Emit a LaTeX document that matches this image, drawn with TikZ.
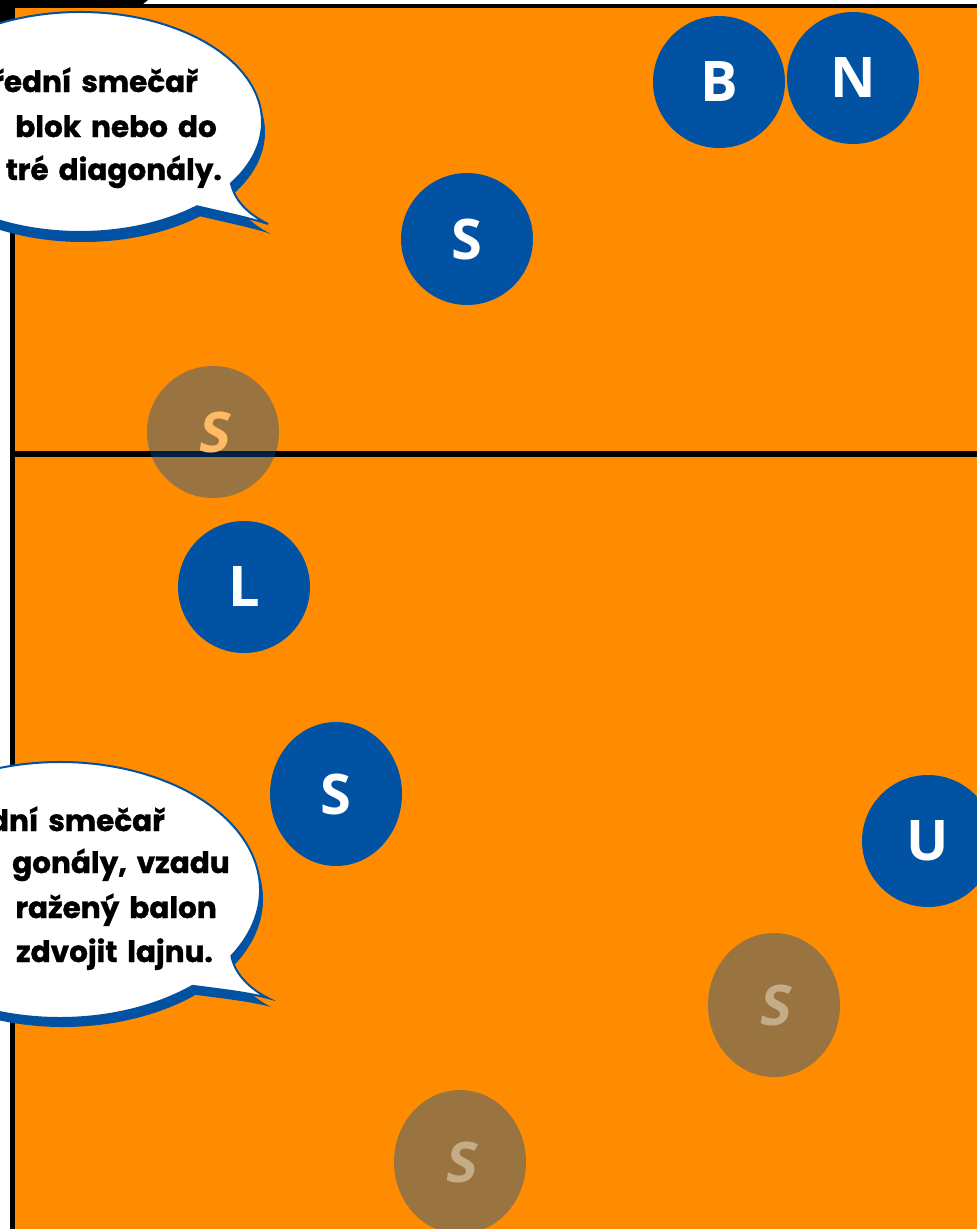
\documentclass[tikz,border=0pt]{standalone}
\usepackage{fontspec}
\setmainfont{Poppins}
\newfontfamily\bubblefont{Poppins}[BoldFeatures={FakeBold=1.2}]
\newfontfamily\letterfont{Open Sans}
\newfontfamily\ghostfont{Open Sans}[FakeSlant=0.15]
\newcommand\widespace{\spaceskip=10pt plus 2pt\relax}
\usetikzlibrary{shapes.geometric}

\definecolor{court}{RGB}{255,140,0}
\definecolor{team}{RGB}{2,82,163}
\definecolor{ghosttxt}{RGB}{196,172,135}
\definecolor{netghosttxt}{RGB}{255,186,102}

\tikzset{
  player/.style={ellipse, fill=team, inner sep=0pt, minimum width=132, minimum height=132,
    text=white, font=\letterfont\bfseries\fontsize{56}{56}\selectfont},
  ghost/.style={player, fill opacity=0.4, text opacity=1, text=ghosttxt,
    font=\ghostfont\bfseries\fontsize{56}{56}\selectfont},
  bubbletext/.style={anchor=base east, inner sep=0pt, text=black,
    font=\bubblefont\bfseries\fontsize{29.5}{36}\selectfont\widespace}
}

\begin{document}
\begin{tikzpicture}[x=1pt, y=-1pt]

\useasboundingbox (0,0) rectangle (977,1229);
\clip (0,0) rectangle (977,1229);

%\draw[step=100, gray!50] (0,0) grid (977,1229);

% court
\fill[court] (15,8) rectangle (977,1229);
\fill[black] (0,0) -- (148,0) -- (143,4) -- (0,4) -- cycle;
\fill[black] (0,0) rectangle (15,30);
\draw[line width=4] (10,6) -- (977,6);
\draw[line width=5] (12.5,4) -- (12.5,1229);
\draw[line width=6] (10,454) -- (977,454);

% players
\foreach \nm/\x/\y/\t in {pB/719/82/B, pN/853/78/N, pStop/467/239/S, pL/244/587/L, pU/928/841/U}
\node[player] (\nm) at (\x,\y) {\t};
\node[player, minimum height=144] (pSmid) at (336,794) {S};

% ghosts
\node[ghost, text=netghosttxt] (gSnet) at (213,432) {S};
\node[ghost, minimum height=144] (gSright) at (774,1005) {S};
\node[ghost, minimum height=144] (gSbottom) at (460,1162) {S};

% upper bubble
\fill[team, shift={(3,10)}] (80,122) ++(34:182 and 110)
 arc[start angle=34, end angle=-310, x radius=182, y radius=110]
 .. controls (230,214) and (250,218) .. (268,224)
 .. controls (246,213) and (235,200) .. cycle;
\draw[fill=white, draw=team, line width=2] (80,122) ++(34:182 and 110)
 arc[start angle=34, end angle=-310, x radius=182, y radius=110]
 .. controls (230,214) and (250,218) .. (268,224)
 .. controls (246,213) and (235,200) .. cycle;

\node[bubbletext] (tUpA) at (198,92) {řední smečař};
\node[bubbletext] (tUpB) at (217,137) {blok nebo do};
\node[bubbletext] (tUpC) at (222,180) {tré diagonály.};

% lower bubble
\fill[team, shift={(3,9)}] (60,890) ++(31:200 and 128)
 arc[start angle=31, end angle=-311.5, x radius=200, y radius=128]
 .. controls (225,990) and (250,993) .. (268,998)
 .. controls (248,988) and (234,972) .. cycle;
\draw[fill=white, draw=team, line width=2] (60,890) ++(31:200 and 128)
 arc[start angle=31, end angle=-311.5, x radius=200, y radius=128]
 .. controls (225,990) and (250,993) .. (268,998)
 .. controls (248,988) and (234,972) .. cycle;

\node[bubbletext] (tLoA) at (165,831) {dní smečař};
\node[bubbletext] (tLoB) at (230,873) {gonály, vzadu};
\node[bubbletext] (tLoC) at (217,918) {ražený balon};
\node[bubbletext] (tLoD) at (213,962) {zdvojit lajnu.};

\end{tikzpicture}
\end{document}
